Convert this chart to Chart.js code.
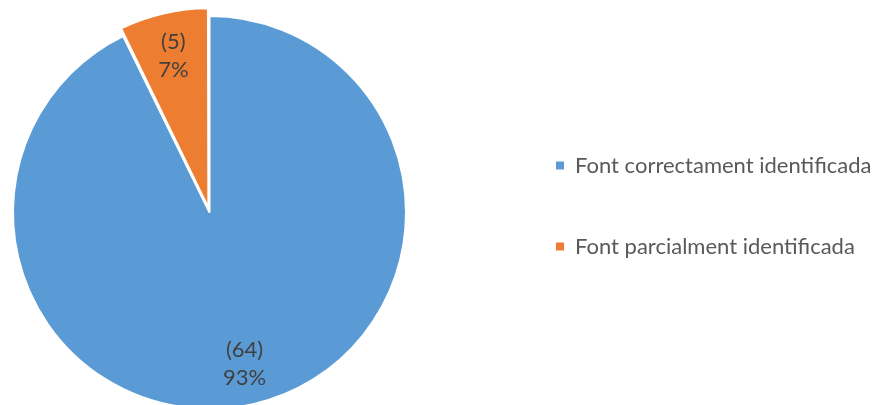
<!DOCTYPE html>
<html>
<head>
<meta charset="utf-8">
<script src="https://cdn.jsdelivr.net/npm/chart.js@4/dist/chart.umd.min.js"></script>
<style>
  html, body { margin: 0; padding: 0; background: #fff; overflow: hidden; }
  #wrap { position: relative; width: 877px; height: 425px; }
</style>
</head>
<body>
<div id="wrap"><canvas id="pie-chart"></canvas></div>
<script>
// Chart data
const categories = ['Font correctament identificada', 'Font parcialment identificada'];
const counts = [64, 5];
const sliceColors = ['#5B9BD5', '#ED7D31'];
const explode = [0, 20];

const FONT = 'Lato, "Open Sans", sans-serif';

// Draws "(n)" and "p%" inside each slice
const sliceLabels = {
  id: 'sliceLabels',
  afterDatasetsDraw(chart) {
    const ctx = chart.ctx;
    const meta = chart.getDatasetMeta(0);
    const data = chart.data.datasets[0].data;
    const total = data.reduce((a, b) => a + b, 0);
    ctx.save();
    ctx.font = '22px ' + FONT;
    ctx.fillStyle = '#404040';
    ctx.textAlign = 'center';
    ctx.textBaseline = 'middle';
    meta.data.forEach((arc, i) => {
      const p = arc.getProps(['x', 'y', 'startAngle', 'endAngle', 'outerRadius']);
      const mid = (p.startAngle + p.endAngle) / 2;
      const dist = p.outerRadius * 0.79 + (arc.options.offset || 0) / 4;
      const cx = p.x + Math.cos(mid) * dist;
      const cy = p.y + Math.sin(mid) * dist;
      const pct = Math.round(data[i] / total * 100);
      ctx.fillText('(' + data[i] + ')', cx, cy - 14);
      ctx.fillText(pct + '%', cx, cy + 14);
    });
    ctx.restore();
  }
};

// Puts the legend block on the right side, next to the pie
const legendBox = {
  id: 'legendBox',
  afterLayout(chart) {
    const lg = chart.legend;
    if (!lg) return;
    lg.left = 497;
    lg.right = chart.width;
    lg.width = lg.right - lg.left;
    lg.top = 0;
    lg.bottom = 412;
    lg.height = 412;
  }
};

// Legend squares without the white slice border
function legendLabels(chart) {
  const base = Chart.overrides.doughnut.plugins.legend.labels.generateLabels;
  const items = base(chart);
  items.forEach(item => { item.lineWidth = 0; });
  return items;
}

new Chart(document.getElementById('pie-chart'), {
  type: 'pie',
  data: {
    labels: categories,
    datasets: [{
      data: counts,
      backgroundColor: sliceColors,
      borderColor: '#ffffff',
      borderWidth: 2,
      offset: explode,
      radius: 196.5
    }]
  },
  options: {
    responsive: true,
    maintainAspectRatio: false,
    animation: false,
    events: [],
    layout: {
      padding: { left: 0, right: 458, top: 0, bottom: 0 }
    },
    plugins: {
      tooltip: { enabled: false },
      legend: {
        position: 'chartArea',
        labels: {
          boxWidth: 8,
          boxHeight: 8,
          padding: 59,
          color: '#595959',
          font: { family: FONT, size: 22 },
          generateLabels: legendLabels
        }
      }
    }
  },
  plugins: [sliceLabels, legendBox]
});
</script>
</body>
</html>
